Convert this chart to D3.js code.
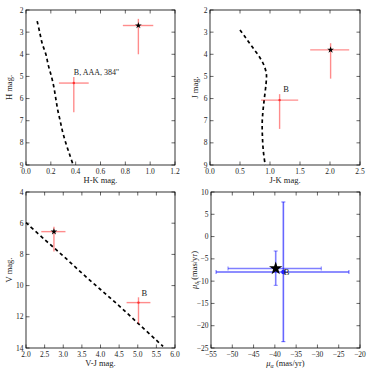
<!DOCTYPE html>
<html><head><meta charset="utf-8">
<script src="https://cdn.jsdelivr.net/npm/d3@7"></script>
<style>body{margin:0;background:#fff}svg{display:block}text{font-family:"Liberation Serif","DejaVu Serif",serif;fill:#222}</style>
</head><body><svg id="c" width="374" height="374"></svg>
<script>
// Panel 1: H vs H-K
const hkCurveX = [0.09,0.11,0.13,0.16,0.18,0.205,0.225,0.24,0.255,0.275,0.295,0.32,0.35,0.38];
const hkCurveY = [2.5,3,3.5,4,4.5,5,5.5,6,6.5,7,7.5,8,8.5,9];
// [x, y, xLo, xHi, yLo(bright), yHi(faint)]
const hkPrimary = [0.905, 2.7, 0.78, 1.025, 2.4, 4.0];
const hkB = [0.385, 5.3, 0.265, 0.505, 5.03, 6.62];
const hkLabel = "B, AAA, 384''";

// Panel 2: J vs J-K
const jkCurveX = [0.5,0.58,0.66,0.74,0.82,0.9,0.94,0.935,0.91,0.885,0.87,0.875,0.89,0.92];
const jkCurveY = [2.9,3.2,3.5,3.8,4.1,4.5,4.9,5.3,5.9,6.5,7.1,7.8,8.4,9.0];
const jkPrimary = [2.01, 3.8, 1.67, 2.32, 3.5, 5.1];
const jkB = [1.16, 6.07, 0.85, 1.47, 5.8, 7.37];

// Panel 3: V vs V-J
const vjCurveX = [2.0,2.5,3.0,3.5,4.0,4.5,5.0,5.5,5.68];
const vjCurveY = [5.97,7.05,8.1,9.2,10.25,11.3,12.4,13.5,13.9];
const vjPrimary = [2.75, 6.54, 2.41, 3.06, 6.22, 7.82];
const vjB = [5.02, 11.09, 4.7, 5.34, 10.75, 12.42];

// Panel 4: proper motions
const pmPrimary = [-39.8, -7.16, -51.0, -29.1, -3.24, -10.94];
const pmB = [-38.0, -7.95, -53.8, -22.6, 7.76, -23.58];

const hkXTicks = [0,0.2,0.4,0.6,0.8,1.0,1.2];
const magTicks = [2,3,4,5,6,7,8,9];
const jkXTicks = [0,0.5,1.0,1.5,2.0,2.5];
const vjXTicks = [2.0,2.5,3.0,3.5,4.0,4.5,5.0,5.5,6.0];
const vTicks = [4,6,8,10,12,14];
const pmXTicks = [-55,-50,-45,-40,-35,-30,-25,-20];
const pmYTicks = [-25,-20,-15,-10,-5,0,5,10];

const svg = d3.select("#c");
const fmt1 = d => d.toFixed(1);
const fmt0 = d => String(d).replace("-", "\u2212");

function panel(o) {
  const g = svg.append("g");
  const x = d3.scaleLinear().domain(o.xd).range([o.l, o.r]);
  const y = d3.scaleLinear().domain(o.yd).range(o.yrev ? [o.t, o.b] : [o.b, o.t]);
  const tl = 3.5;
  o.xt.forEach(v => {
    const px = x(v);
    g.append("line").attr("x1",px).attr("x2",px).attr("y1",o.b).attr("y2",o.b-tl).attr("stroke","#000").attr("stroke-width",0.6);
    g.append("line").attr("x1",px).attr("x2",px).attr("y1",o.t).attr("y2",o.t+tl).attr("stroke","#000").attr("stroke-width",0.6);
    g.append("text").attr("x",px).attr("y",o.b+8.5).attr("text-anchor","middle").attr("font-size",7.5).text(o.xf(v));
  });
  o.yt.forEach(v => {
    const py = y(v);
    g.append("line").attr("x1",o.l).attr("x2",o.l+tl).attr("y1",py).attr("y2",py).attr("stroke","#000").attr("stroke-width",0.6);
    g.append("line").attr("x1",o.r).attr("x2",o.r-tl).attr("y1",py).attr("y2",py).attr("stroke","#000").attr("stroke-width",0.6);
    g.append("text").attr("x",o.l-2.5).attr("y",py+2.6).attr("text-anchor","end").attr("font-size",7.5).text(o.yf(v));
  });
  if (o.cx) {
    const pts = o.cx.map((v,i)=>[x(v), y(o.cy[i])]);
    g.append("path").attr("d", d3.line().curve(d3.curveCatmullRom)(pts))
      .attr("fill","none").attr("stroke","#000").attr("stroke-width",1.7).attr("stroke-dasharray","3.5,3");
  }
  o.pts.forEach(p => {
    const [px,py,xl,xh,yl,yh] = p.d;
    const col = p.col, op = p.op, w = p.w;
    g.append("line").attr("x1",x(xl)).attr("x2",x(xh)).attr("y1",y(py)).attr("y2",y(py)).attr("stroke",col).attr("stroke-opacity",op).attr("stroke-width",w);
    g.append("line").attr("x1",x(px)).attr("x2",x(px)).attr("y1",y(yl)).attr("y2",y(yh)).attr("stroke",col).attr("stroke-opacity",op).attr("stroke-width",w);
    if (p.cap) {
      [[x(xl),y(py),0],[x(xh),y(py),0],[x(px),y(yl),1],[x(px),y(yh),1]].forEach(c => {
        if (c[2]) g.append("line").attr("x1",c[0]-2).attr("x2",c[0]+2).attr("y1",c[1]).attr("y2",c[1]).attr("stroke",col).attr("stroke-opacity",op).attr("stroke-width",1);
        else g.append("line").attr("x1",c[0]).attr("x2",c[0]).attr("y1",c[1]-2).attr("y2",c[1]+2).attr("stroke",col).attr("stroke-opacity",op).attr("stroke-width",1);
      });
    }
  });
  o.pts.forEach(p => {
    const [px,py] = p.d;
    if (p.mk === "star") {
      g.append("path").attr("d", d3.symbol().type(d3.symbolStar).size(p.ms)()).attr("transform",`translate(${x(px)},${y(py)})`).attr("fill","#000");
    } else {
      g.append("circle").attr("cx",x(px)).attr("cy",y(py)).attr("r",p.ms).attr("fill",p.mc);
    }
    if (p.label) g.append("text").attr("x",x(p.lx)).attr("y",y(p.ly)).attr("font-size",p.lfs||8.5).text(p.label);
  });
  g.append("rect").attr("x",o.l).attr("y",o.t).attr("width",o.r-o.l).attr("height",o.b-o.t).attr("fill","none").attr("stroke","#000").attr("stroke-width",0.8);
  const xl = g.append("text").attr("x",(o.l+o.r)/2).attr("y",o.b+18).attr("text-anchor","middle").attr("font-size",8.5);
  o.xlab(xl);
  const yl = g.append("text").attr("transform",`translate(${o.ylx},${(o.t+o.b)/2}) rotate(-90)`).attr("text-anchor","middle").attr("font-size",8.5);
  o.ylab(yl);
}

const red = "#ff0000";
panel({l:26,r:175,t:10,b:165,xd:[0,1.2],yd:[2,9],yrev:true,xt:hkXTicks,yt:magTicks,xf:fmt1,yf:fmt0,
  cx:hkCurveX,cy:hkCurveY, ylx:12,
  pts:[{d:hkPrimary,col:red,op:0.45,w:1.4,mk:"star",ms:14},
       {d:hkB,col:red,op:0.45,w:1.4,mk:"dot",ms:1.2,mc:"#ff3030",label:hkLabel,lx:0.385,ly:4.93,lfs:8}],
  xlab:t=>t.text("H-K mag."), ylab:t=>t.text("H mag.")});

panel({l:210,r:360,t:10,b:165,xd:[0,2.5],yd:[2,9],yrev:true,xt:jkXTicks,yt:magTicks,xf:fmt1,yf:fmt0,
  cx:jkCurveX,cy:jkCurveY, ylx:198,
  pts:[{d:jkPrimary,col:red,op:0.45,w:1.4,mk:"star",ms:14},
       {d:jkB,col:red,op:0.45,w:1.4,mk:"dot",ms:1.2,mc:"#ff3030",label:"B",lx:1.22,ly:5.72}],
  xlab:t=>t.text("J-K mag."), ylab:t=>t.text("J mag.")});

panel({l:26,r:175,t:192,b:348,xd:[2,6],yd:[4,14],yrev:true,xt:vjXTicks,yt:vTicks,xf:fmt1,yf:fmt0,
  cx:vjCurveX,cy:vjCurveY, ylx:12,
  pts:[{d:vjPrimary,col:red,op:0.45,w:1.4,mk:"star",ms:14},
       {d:vjB,col:red,op:0.45,w:1.4,mk:"dot",ms:1.2,mc:"#ff3030",label:"B",lx:5.1,ly:10.65}],
  xlab:t=>t.text("V-J mag."), ylab:t=>t.text("V mag.")});

panel({l:211,r:360,t:192,b:348,xd:[-55,-20],yd:[-25,10],yrev:false,xt:pmXTicks,yt:pmYTicks,xf:fmt0,yf:fmt0,
  ylx:197,
  pts:[{d:pmPrimary,col:"#0000ff",op:0.5,w:1.6,cap:true,mk:"star",ms:55},
       {d:pmB,col:"#0000ff",op:0.6,w:1.6,cap:true,mk:"dot",ms:2.2,mc:"#2020ff",label:"B",lx:-37.9,ly:-8.6}],
  xlab:t=>{t.append("tspan").attr("font-style","italic").text("\u03bc");t.append("tspan").attr("font-style","italic").attr("font-size",6).attr("dy",2).text("\u03b1");t.append("tspan").attr("dy",-2).text(" (mas/yr)");},
  ylab:t=>{t.append("tspan").attr("font-style","italic").text("\u03bc");t.append("tspan").attr("font-style","italic").attr("font-size",6).attr("dy",2).text("\u03b4");t.append("tspan").attr("dy",-2).text(" (mas/yr)");}});
</script></body></html>
